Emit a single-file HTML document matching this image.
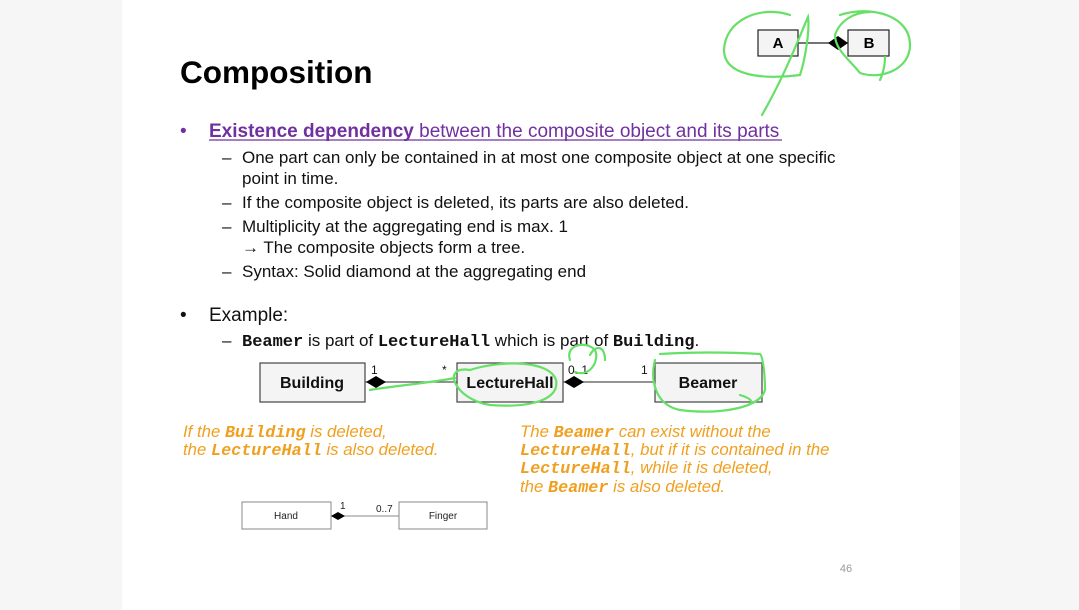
<!DOCTYPE html>
<html><head><meta charset="utf-8"><style>
body{margin:0;width:1079px;height:610px;overflow:hidden;background:#f6f6f6;}
svg{display:block}
text{font-family:"Liberation Sans",sans-serif;}
.m{font-family:"Liberation Mono",monospace;font-weight:bold;}
</style></head><body>
<svg width="1079" height="610" viewBox="0 0 1079 610">
<rect x="122" y="0" width="838" height="610" fill="#fff"/>
<text x="180" y="83" font-size="31.5" font-weight="bold" fill="#000">Composition</text>
<g font-size="19" fill="#7030a0">
<text x="180" y="137">•</text>
<text x="209" y="137"><tspan font-weight="bold">Existence dependency</tspan> between the composite object and its parts</text>
</g>
<line x1="209" y1="140" x2="782" y2="140" stroke="#7030a0" stroke-width="1.2"/>
<g font-size="17" fill="#111">
<text x="222" y="163">–</text><text x="242" y="163">One part can only be contained in at most one composite object at one specific</text>
<text x="242" y="184">point in time.</text>
<text x="222" y="208">–</text><text x="242" y="208">If the composite object is deleted, its parts are also deleted.</text>
<text x="222" y="232">–</text><text x="242" y="232">Multiplicity at the aggregating end is max. 1</text>
<text x="242" y="253">→ The composite objects form a tree.</text>
<text x="222" y="277">–</text><text x="242" y="277">Syntax: Solid diamond at the aggregating end</text>
</g>
<text x="180" y="321" font-size="19" fill="#111">•</text>
<text x="209" y="321" font-size="19" fill="#111">Example:</text>
<text x="222" y="346" font-size="17" fill="#111">–</text>
<text x="242" y="346" font-size="17" fill="#111"><tspan class="m">Beamer</tspan> is part of <tspan class="m">LectureHall</tspan> which is part of <tspan class="m">Building</tspan>.</text>
<g stroke="#444" stroke-width="1.2" fill="#f4f4f4">
<rect x="260" y="363" width="105" height="39"/>
<rect x="457" y="363" width="106" height="39"/>
<rect x="655" y="363" width="107" height="39"/>
</g>
<line x1="365" y1="382" x2="457" y2="382" stroke="#555" stroke-width="1.2"/>
<line x1="563" y1="382" x2="655" y2="382" stroke="#555" stroke-width="1.2"/>
<polygon points="366,382 376,376 386,382 376,388" fill="#000"/>
<polygon points="564,382 574,376 584,382 574,388" fill="#000"/>
<g font-size="16" font-weight="bold" fill="#111" text-anchor="middle">
<text x="312" y="388">Building</text><text x="510" y="388">LectureHall</text><text x="708" y="388">Beamer</text>
</g>
<g font-size="12" fill="#111"><text x="371" y="374">1</text><text x="442" y="374">*</text><text x="568" y="374">0..1</text><text x="641" y="374">1</text></g>
<g font-size="16.8" font-style="italic" fill="#f0a020">
<text x="183" y="437">If the <tspan class="m">Building</tspan> is deleted,</text>
<text x="183" y="455">the <tspan class="m">LectureHall</tspan> is also deleted.</text>
<text x="520" y="437">The <tspan class="m">Beamer</tspan> can exist without the</text>
<text x="520" y="455"><tspan class="m">LectureHall</tspan>, but if it is contained in the</text>
<text x="520" y="473"><tspan class="m">LectureHall</tspan>,  while it is deleted,</text>
<text x="520" y="492">the <tspan class="m">Beamer</tspan> is also deleted.</text>
</g>
<g stroke="#888" stroke-width="1" fill="#fff">
<rect x="242" y="502" width="89" height="27"/><rect x="399" y="502" width="88" height="27"/>
</g>
<line x1="331" y1="516" x2="399" y2="516" stroke="#888"/>
<polygon points="331,516 338,512 345,516 338,520" fill="#000"/>
<g font-size="10" fill="#222"><text x="286" y="519" text-anchor="middle">Hand</text><text x="443" y="519" text-anchor="middle">Finger</text>
<text x="340" y="509">1</text><text x="376" y="512">0..7</text></g>
<text x="846" y="572" font-size="11" fill="#999" text-anchor="middle">46</text>
<rect x="758" y="30" width="40" height="26" fill="#f4f4f4" stroke="#222" stroke-width="1.2"/>
<rect x="848" y="30" width="41" height="26" fill="#f4f4f4" stroke="#222" stroke-width="1.2"/>
<line x1="798" y1="43" x2="848" y2="43" stroke="#222" stroke-width="1.2"/>
<polygon points="828,43 838,36 848,43 838,50" fill="#000"/>
<g font-size="15" font-weight="bold" text-anchor="middle"><text x="778" y="48">A</text><text x="869" y="48">B</text></g>
<g fill="none" stroke="#66e066" stroke-width="2.2" stroke-linecap="round">
<path d="M790,15 C760,5 725,20 724,50 C724,75 760,80 800,75 C805,60 810,30 808,17 C798,40 785,75 762,115"/>
<path d="M840,15 C870,5 910,15 910,45 C910,70 880,80 860,73 C850,60 835,50 835,35 C840,20 855,12 870,12 M885,57 C885,70 880,80 880,80"/>
<path d="M370,390 C400,385 430,383 455,378 M470,370 C440,365 455,400 490,405 C530,408 560,400 556,380 C550,360 500,360 470,370"/>
<path d="M570,360 C565,345 585,340 595,350 C600,360 590,378 575,372 M590,355 C595,345 605,345 605,360"/>
<path d="M655,360 C650,380 655,405 680,410 C720,415 760,408 765,390 C765,370 762,355 760,354 C730,352 690,352 660,354 M740,395 C750,398 755,402 748,405"/>
</g>
</svg>
</body></html>
